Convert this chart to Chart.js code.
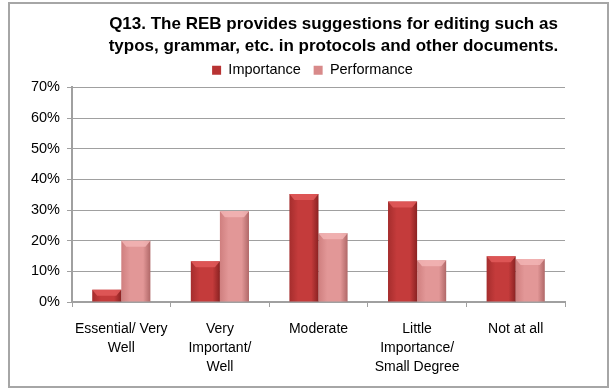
<!DOCTYPE html>
<html>
<head>
<meta charset="utf-8">
<script src="https://cdn.jsdelivr.net/npm/chart.js@4.4.1/dist/chart.umd.min.js"></script>
<style>
  html, body { margin: 0; padding: 0; background: #fff; }
  #frame { position: absolute; left: 8px; top: 2px; width: 597px; height: 382px; border: 2px solid #a6a6a6; background: #fff; }
  #frame canvas { display: block; }
</style>
</head>
<body>
<div id="frame"><canvas id="q13-chart" width="597" height="382"></canvas></div>
<script>
/* Chart data */
let titleLines = ['Q13. The REB provides suggestions for editing such as', 'typos, grammar, etc. in protocols and other documents.']
let categories = [['Essential/ Very', 'Well'], ['Very', 'Important/', 'Well'], 'Moderate', ['Little', 'Importance/', 'Small Degree'], 'Not at all']
let seriesNames = ['Importance', 'Performance']
let importance = [4, 13.3, 35.2, 32.8, 14.9]
let performance = [20, 29.6, 22.4, 13.6, 14]
let yTicks = [0, 10, 20, 30, 40, 50, 60, 70]

let fontFamily = '"Liberation Sans", Arial, sans-serif'
let groupShare = 0.59

// gradient stops for the two series (left edge, highlight, right edge)
let seriesShades = [
    ['#a52d2d', '#c43b3b', '#8a2222'],
    ['#cf7f7f', '#e29797', '#b06868']
]
let legendColors = ['#b83333', '#d88a8a']
let topShades = ['#e25a5a', '#f2b4b4']

function barFill(datasetIndex) {
    return function(context) {
        let chart = context.chart
        let xScale = chart.scales.x
        let shades = seriesShades[datasetIndex]
        if (!chart.chartArea || !xScale || context.type !== 'data') {
            return shades[1]
        }
        let slot = (xScale.right - xScale.left) / categories.length * groupShare / 2
        let center = xScale.getPixelForValue(context.dataIndex)
        let left = center + (datasetIndex - 1) * slot
        let g = chart.ctx.createLinearGradient(left, 0, left + slot, 0)
        g.addColorStop(0, shades[0])
        g.addColorStop(0.3, shades[1])
        g.addColorStop(0.75, shades[1])
        g.addColorStop(1, shades[2])
        return g
    }
}

// lighter bevel on top of each bar, placed from the bar elements
let bevelPlugin = {
    id: 'bevel',
    afterDatasetsDraw(chart) {
        let ctx = chart.ctx
        chart.data.datasets.forEach(function(ds, di) {
            let meta = chart.getDatasetMeta(di)
            meta.data.forEach(function(bar) {
                let half = bar.width / 2
                let h = Math.min(6, bar.base - bar.y)
                let inset = Math.min(5, h)
                ctx.save()
                ctx.fillStyle = topShades[di]
                ctx.globalAlpha = 0.85
                ctx.beginPath()
                ctx.moveTo(bar.x - half, bar.y)
                ctx.lineTo(bar.x + half, bar.y)
                ctx.lineTo(bar.x + half - inset, bar.y + h)
                ctx.lineTo(bar.x - half + inset, bar.y + h)
                ctx.closePath()
                ctx.fill()
                ctx.restore()
            })
        })
    }
}

// nudge title and legend sideways to sit where the original puts them
let nudgePlugin = {
    id: 'nudge',
    afterLayout(chart) {
        let shifts = [[chart.titleBlock, 46], [chart.legend, 25]]
        shifts.forEach(function(pair) {
            if (pair[0]) {
                pair[0].left += pair[1]
                pair[0].right += pair[1]
            }
        })
    }
}

let canvas = document.querySelector('#q13-chart')
let q13Chart = new Chart(canvas.getContext('2d'), {
    type: 'bar',
    data: {
        labels: categories,
        datasets: [{
            label: seriesNames[0],
            data: importance,
            backgroundColor: barFill(0),
            borderWidth: 0
        }, {
            label: seriesNames[1],
            data: performance,
            backgroundColor: barFill(1),
            borderWidth: 0
        }]
    },
    options: {
        responsive: false,
        animation: false,
        devicePixelRatio: 1,
        datasets: {
            bar: { categoryPercentage: groupShare, barPercentage: 1 }
        },
        layout: { padding: { left: 0, right: 42, top: 0, bottom: 0 } },
        plugins: {
            title: {
                display: true,
                text: titleLines,
                color: '#000',
                font: { family: fontFamily, size: 17, weight: 'bold', lineHeight: 1.3 },
                padding: { top: 9, bottom: -7 }
            },
            legend: {
                position: 'top',
                labels: {
                    boxWidth: 9,
                    boxHeight: 9,
                    padding: 12.75,
                    color: '#000',
                    font: { family: fontFamily, size: 14.5 },
                    generateLabels: function(chart) {
                        let items = Chart.defaults.plugins.legend.labels.generateLabels(chart)
                        return items.map(function(item, i) {
                            item.fillStyle = legendColors[i]
                            item.strokeStyle = legendColors[i]
                            item.lineWidth = 0
                            return item
                        })
                    }
                }
            },
            tooltip: { enabled: false }
        },
        scales: {
            x: {
                grid: { drawOnChartArea: false, drawTicks: true, tickLength: 5, color: '#a0a0a0', offset: true },
                border: { color: '#a0a0a0', width: 2 },
                ticks: {
                    color: '#000',
                    font: { family: fontFamily, size: 14, lineHeight: 1.35 },
                    padding: 13,
                    maxRotation: 0,
                    autoSkip: false
                },
                afterFit: function(scale) { scale.height = 84 }
            },
            y: {
                min: yTicks[0],
                max: yTicks[yTicks.length - 1],
                afterBuildTicks: function(scale) {
                    scale.ticks = yTicks.map(function(v) { return { value: v } })
                },
                ticks: {
                    color: '#000',
                    font: { family: fontFamily, size: 14.5 },
                    padding: 7,
                    callback: function(v) { return v + '%' }
                },
                grid: { color: '#a0a0a0', tickLength: 5 },
                border: { color: '#a0a0a0', width: 2 },
                afterFit: function(scale) { scale.width = 62 }
            }
        }
    },
    plugins: [bevelPlugin, nudgePlugin]
})
</script>
</body>
</html>
